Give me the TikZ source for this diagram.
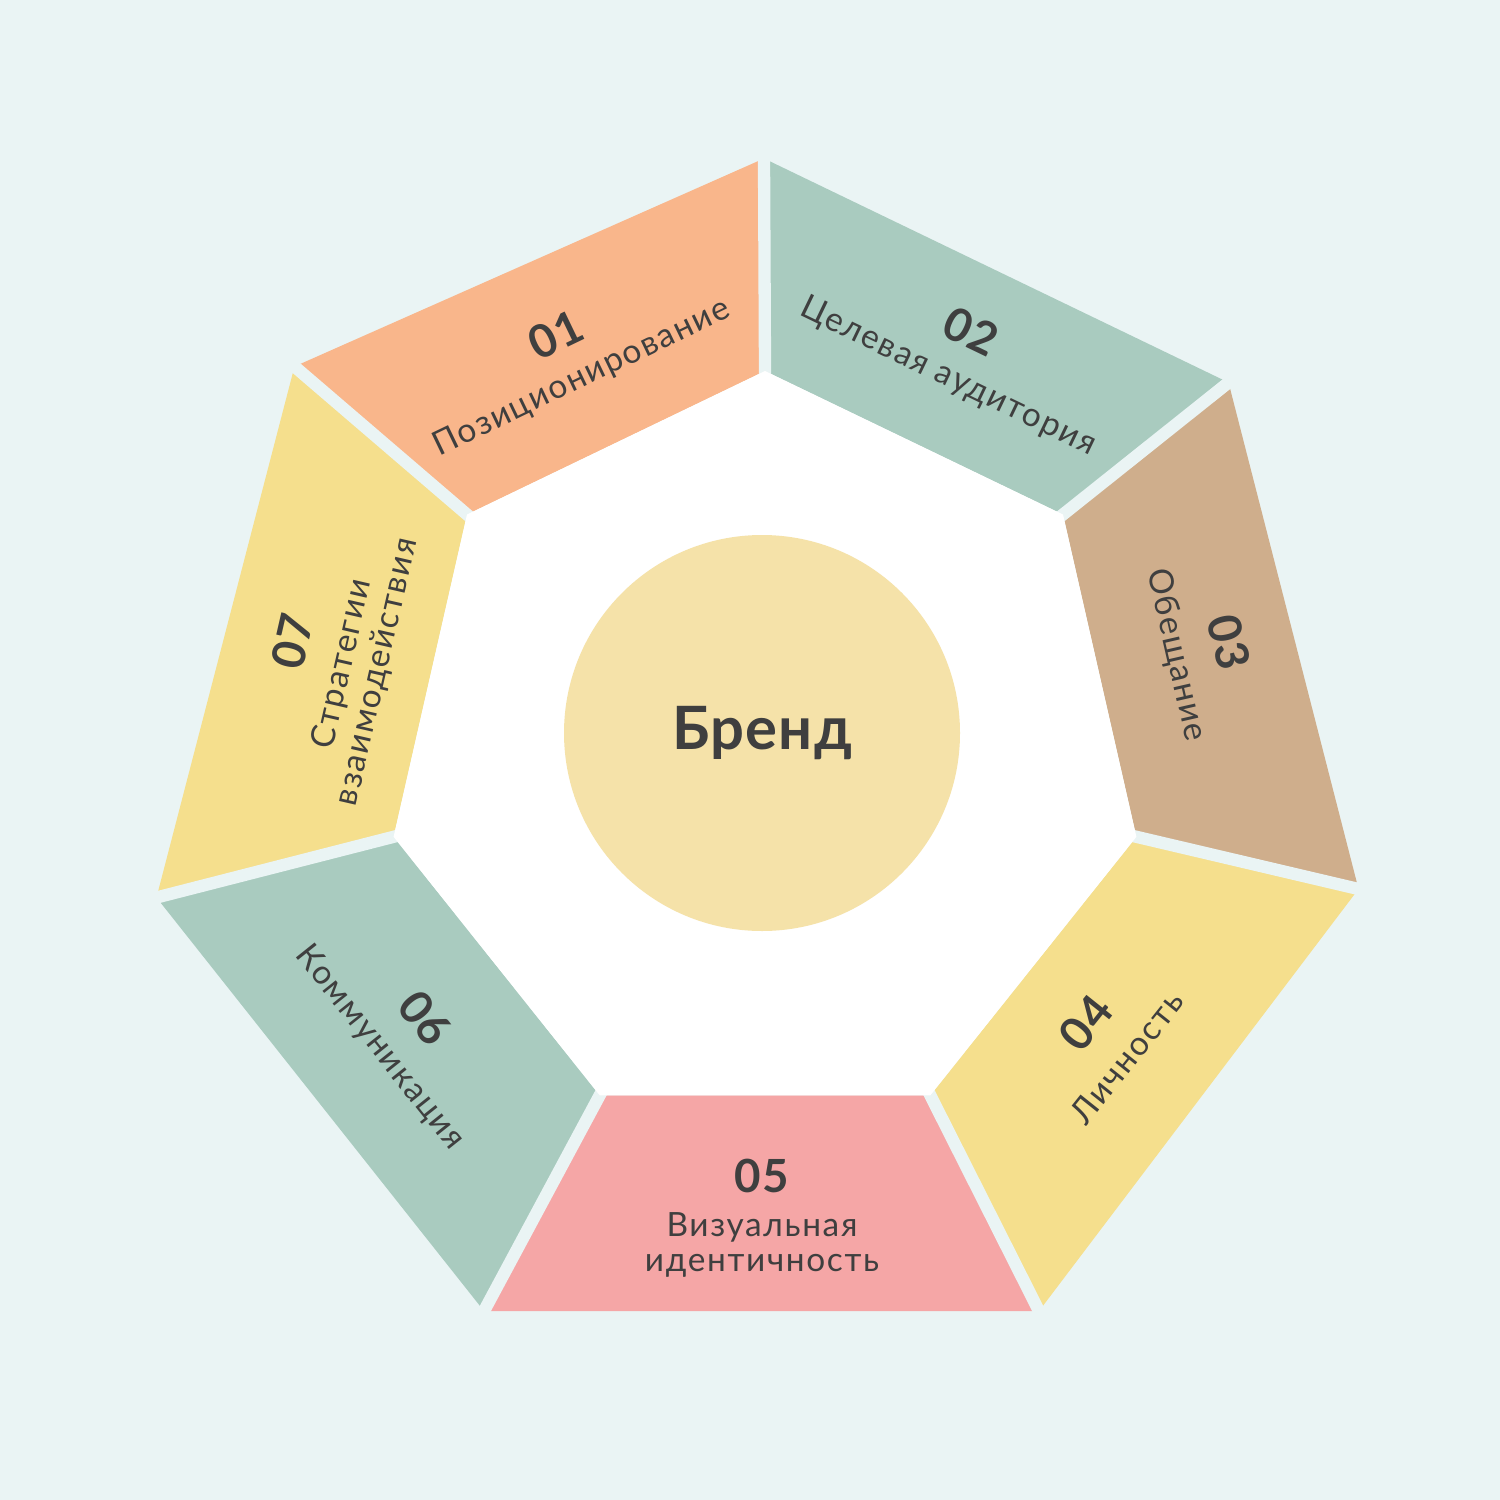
\documentclass[tikz,border=0pt]{standalone}
\usepackage{fontspec}
\setmainfont{Lato}
\definecolor{bgcol}{HTML}{EAF4F4}
\definecolor{orng}{HTML}{F9B68B}
\definecolor{sage}{HTML}{A9CBBF}
\definecolor{tan}{HTML}{CFAE8C}
\definecolor{sand}{HTML}{F5DF8D}
\definecolor{rose}{HTML}{F5A6A6}
\definecolor{corecol}{HTML}{F5E2A9}
\definecolor{txtcol}{HTML}{3F3F3F}
\begin{document}
\begin{tikzpicture}[x=0.1mm,y=-0.1mm,
	gapline/.style={draw=bgcol,line width=3.5pt,shorten <=-6pt,shorten >=-6pt},
	num/.style={font=\bfseries\fontsize{13}{14}\selectfont\addfontfeature{LetterSpace=3},text=txtcol},
	lbl/.style={font=\fontsize{9.5}{10.2}\selectfont\addfontfeature{LetterSpace=5},text=txtcol,align=center}]
			%background
			\fill[bgcol] (0,0) rectangle (1500,1500);
			\useasboundingbox (0,0) rectangle (1500,1500);
			
			%outer corners
			\coordinate (O1) at (294.5,366.5);
			\coordinate (O2) at (764,158.5);
			\coordinate (O3) at (1228.5,382.5);
			\coordinate (O4) at (1358.5,889);
			\coordinate (O5) at (1039,1311);
			\coordinate (O6) at (484,1311);
			\coordinate (O7) at (156.5,897.5);
			%inner corners
			\coordinate (I1) at (467,514.5);
			\coordinate (I2) at (765,371);
			\coordinate (I3) at (1063,514.5);
			\coordinate (I4) at (1136.4,836.8);
			\coordinate (I5) at (930.3,1095.3);
			\coordinate (I6) at (599.7,1095.3);
			\coordinate (I7) at (393.6,836.8);
			
			\foreach \a/\b/\col in {1/2/orng, 2/3/sage, 3/4/tan, 4/5/sand, 5/6/rose, 6/7/sage, 7/1/sand}{
				\fill[\col] (O\a) -- (O\b) -- (I\b) -- (I\a) -- cycle;
			}
			\foreach \i in {1,...,7}{
				\draw[gapline] (I\i) -- (O\i);
			}
			\fill[white] (I1) -- (I2) -- (I3) -- (I4) -- (I5) -- (I6) -- (I7) -- cycle;
			
			%centre
			\node (brand) at (762,733) [circle,fill=corecol,minimum size=39.6mm,text=txtcol,font=\bfseries\fontsize{17}{19}\selectfont\addfontfeature{LetterSpace=2}]{Бренд};
			
			%labels
			\node (n1) at (556,335) [num,rotate=25.7]{01};
			\node (t1) at (582,378) [lbl,rotate=25.7]{Позиционирование};
			\node (n2) at (971,331) [num,rotate=-25.7]{02};
			\node (t2) at (948,377) [lbl,rotate=-25.7]{Целевая аудитория};
			\node (n3) at (1229,642) [num,rotate=-77.1]{03};
			\node (t3) at (1176,655) [lbl,rotate=-77.1]{Обещание};
			\node (n4) at (1086,1023) [num,rotate=51.4]{04};
			\node (t4) at (1127,1057) [lbl,rotate=51.4]{Личность};
			\node (n5) at (762,1176) [num]{05};
			\node (t5) at (762,1245) [lbl]{Визуальная\\идентичность};
			\node (n6) at (425,1018) [num,rotate=-51.4]{06};
			\node (t6) at (380,1048) [lbl,rotate=-51.4]{Коммуникация};
			\node (n7) at (292,641) [num,rotate=77.1]{07};
			\node (t7) at (360,668) [lbl,rotate=77.1]{Стратегии\\взаимодействия};
\end{tikzpicture}
\end{document}
